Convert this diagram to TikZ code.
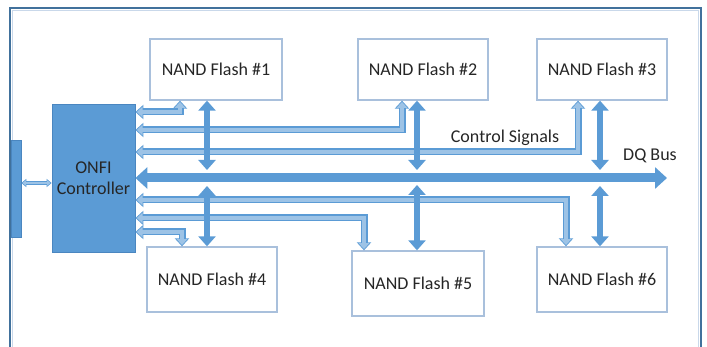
\documentclass[tikz,border=0pt]{standalone}
\usepackage{fontspec}
\setmainfont{Carlito}
\usetikzlibrary{arrows.meta}
\definecolor{frameblue}{HTML}{41719C}
\definecolor{framelight}{HTML}{C9D8EA}
\definecolor{midblue}{HTML}{5B9BD5}
\definecolor{ctrlline}{HTML}{4A86C0}
\definecolor{lightblue}{HTML}{9DC3E6}
\definecolor{boxline}{HTML}{A9C0DC}
\definecolor{txt}{HTML}{262626}
\begin{document}
\begin{tikzpicture}[x=1pt,y=-1pt,
  nand/.style={draw=boxline, line width=1.3pt, fill=white, text=txt, inner sep=0pt,
    font=\fontsize{18}{21}\selectfont},
  ctrlbox/.style={draw=ctrlline, line width=0.8pt, fill=midblue, text=txt, inner sep=0pt,
    align=center, font=\fontsize{18}{21}\selectfont},
  lbl/.style={text=txt, inner sep=0pt, font=\fontsize{18}{21}\selectfont},
  ctlO/.style={draw=midblue, line width=7pt,
    arrows={Triangle[length=8pt,width=14pt]-Triangle[length=8pt,width=14pt]}},
  ctlI/.style={draw=lightblue, line width=4.4pt, shorten <=1.3pt, shorten >=1.3pt,
    arrows={Triangle[length=6pt,width=10.5pt]-Triangle[length=6pt,width=10.5pt]}},
  dqv/.style={draw=midblue, line width=6.5pt,
    arrows={Triangle[length=10pt,width=17pt]-Triangle[length=10pt,width=17pt]}},
  dqbus/.style={draw=midblue, line width=9pt,
    arrows={Triangle[length=12pt,width=21pt]-Triangle[length=12pt,width=21pt]}},
  lnkO/.style={draw=midblue, line width=3.6pt,
    arrows={Triangle[length=5pt,width=8pt]-Triangle[length=5pt,width=8pt]}},
  lnkI/.style={draw=lightblue, line width=1.6pt, shorten <=1pt, shorten >=1pt,
    arrows={Triangle[length=3.5pt,width=5pt]-Triangle[length=3.5pt,width=5pt]}}
]
\useasboundingbox (0,0) rectangle (707,347);
% outer frame (open at the bottom)
\draw[framelight, line width=1.5pt] (12.5,347) -- (12.5,10.5) -- (698.5,10.5) -- (698.5,347);
\draw[frameblue, line width=2pt] (10,347) -- (10,8) -- (701,8) -- (701,347);
% left block and controller
\node[fill=midblue, draw=ctrlline, line width=0.6pt, minimum width=10pt, minimum height=97pt, inner sep=0pt] (lb) at (16,188.5) {};
\node[ctrlbox, minimum width=83pt, minimum height=148pt] (ctrl) at (93.5,178) {ONFI\\Controller};
% NAND boxes
\node[nand, minimum width=132pt, minimum height=61pt] (n1) at (216,69.5) {NAND Flash \#1};
\node[nand, minimum width=130pt, minimum height=61pt] (n2) at (423,69.5) {NAND Flash \#2};
\node[nand, minimum width=130pt, minimum height=61pt] (n3) at (602,69.5) {NAND Flash \#3};
\node[nand, minimum width=130pt, minimum height=65pt] (n4) at (212,279.5) {NAND Flash \#4};
\node[nand, minimum width=132pt, minimum height=65pt] (n5) at (418,283.5) {NAND Flash \#5};
\node[nand, minimum width=130pt, minimum height=65pt] (n6) at (602,279.5) {NAND Flash \#6};
% bend points and bus points
\coordinate (k1) at (180,112);
\coordinate (k2) at (402,130);
\coordinate (k3) at (578,152);
\coordinate (k6) at (566,200);
\coordinate (k5) at (364,218);
\coordinate (k4) at (182,232);
\coordinate (busend) at (667,178);
\coordinate (v1) at (207,170);
\coordinate (v1b) at (207,186);
\coordinate (v2) at (417,170);
\coordinate (v2b) at (417,185);
\coordinate (v3) at (600,170);
\coordinate (v3b) at (600,186);
\coordinate (lk) at (30,183);
% link between left block and controller
\draw[lnkO] (lb.east |- lk) -- (ctrl.west |- lk);
\draw[lnkI] (lb.east |- lk) -- (ctrl.west |- lk);
% control signals
\foreach \k/\n in {k1/n1.south, k2/n2.south, k3/n3.south, k4/n4.north, k5/n5.north, k6/n6.north}{
  \draw[ctlO] (ctrl.east |- \k) -- (\k) -- (\k |- \n);
  \draw[ctlI] (ctrl.east |- \k) -- (\k) -- (\k |- \n);
}
% DQ bus
\draw[dqbus] (ctrl.east |- busend) -- (busend);
% DQ drops
\draw[dqv] (v1 |- n1.south) -- (v1);
\draw[dqv] (v1b) -- (v1b |- n4.north);
\draw[dqv] (v2 |- n2.south) -- (v2);
\draw[dqv] (v2b) -- (v2b |- n5.north);
\draw[dqv] (v3 |- n3.south) -- (v3);
\draw[dqv] (v3b) -- (v3b |- n6.north);
% labels
\node[lbl] (cs) at (505,138) {Control Signals};
\node[lbl] (dq) at (650,156) {DQ Bus};
\end{tikzpicture}
\end{document}
